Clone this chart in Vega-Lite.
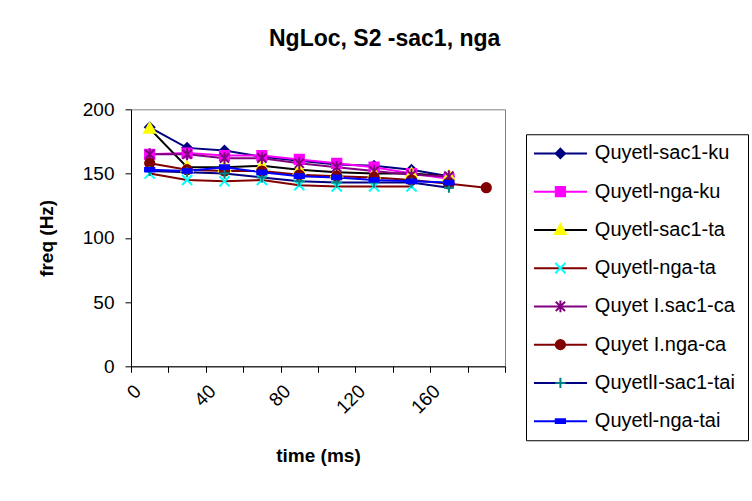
{
  "$schema": "https://vega.github.io/schema/vega-lite/v6.json",
  "padding": {"left": 36, "top": 27, "right": 2, "bottom": 5},
  "background": "white",
  "title": {"text": "NgLoc, S2 -sac1, nga", "fontSize": 23, "font": "Liberation Sans", "fontWeight": "bold", "color": "black", "anchor": "middle", "offset": 49, "dx": -8},
  "config": {
    "font": "Liberation Sans",
    "axis": {"labelFont": "Liberation Sans", "labelFontSize": 19, "labelColor": "black", "titleFont": "Liberation Sans", "titleFontSize": 19, "titleFontWeight": "bold", "titleColor": "black", "domainColor": "black", "tickColor": "black", "tickSize": 6, "grid": false}
  },
  "data": {"values": [
    {"s": "Quyetl-sac1-ku", "t": 10, "f": 186}, {"s": "Quyetl-sac1-ku", "t": 30, "f": 170}, {"s": "Quyetl-sac1-ku", "t": 50, "f": 168}, {"s": "Quyetl-sac1-ku", "t": 70, "f": 163}, {"s": "Quyetl-sac1-ku", "t": 90, "f": 160}, {"s": "Quyetl-sac1-ku", "t": 110, "f": 157}, {"s": "Quyetl-sac1-ku", "t": 130, "f": 156}, {"s": "Quyetl-sac1-ku", "t": 150, "f": 153}, {"s": "Quyetl-sac1-ku", "t": 170, "f": 148},
    {"s": "Quyetl-nga-ku", "t": 10, "f": 165}, {"s": "Quyetl-nga-ku", "t": 30, "f": 166}, {"s": "Quyetl-nga-ku", "t": 50, "f": 164}, {"s": "Quyetl-nga-ku", "t": 70, "f": 164}, {"s": "Quyetl-nga-ku", "t": 90, "f": 161}, {"s": "Quyetl-nga-ku", "t": 110, "f": 158}, {"s": "Quyetl-nga-ku", "t": 130, "f": 155}, {"s": "Quyetl-nga-ku", "t": 150, "f": 150}, {"s": "Quyetl-nga-ku", "t": 170, "f": 146},
    {"s": "Quyetl-sac1-ta", "t": 10, "f": 185}, {"s": "Quyetl-sac1-ta", "t": 30, "f": 155}, {"s": "Quyetl-sac1-ta", "t": 50, "f": 155}, {"s": "Quyetl-sac1-ta", "t": 70, "f": 156}, {"s": "Quyetl-sac1-ta", "t": 90, "f": 153}, {"s": "Quyetl-sac1-ta", "t": 110, "f": 151}, {"s": "Quyetl-sac1-ta", "t": 130, "f": 150}, {"s": "Quyetl-sac1-ta", "t": 150, "f": 150}, {"s": "Quyetl-sac1-ta", "t": 170, "f": 148},
    {"s": "Quyetl-nga-ta", "t": 10, "f": 150}, {"s": "Quyetl-nga-ta", "t": 30, "f": 145}, {"s": "Quyetl-nga-ta", "t": 50, "f": 144}, {"s": "Quyetl-nga-ta", "t": 70, "f": 145}, {"s": "Quyetl-nga-ta", "t": 90, "f": 141}, {"s": "Quyetl-nga-ta", "t": 110, "f": 140}, {"s": "Quyetl-nga-ta", "t": 130, "f": 140}, {"s": "Quyetl-nga-ta", "t": 150, "f": 140},
    {"s": "Quyet I.sac1-ca", "t": 10, "f": 165}, {"s": "Quyet I.sac1-ca", "t": 30, "f": 165}, {"s": "Quyet I.sac1-ca", "t": 50, "f": 162}, {"s": "Quyet I.sac1-ca", "t": 70, "f": 162}, {"s": "Quyet I.sac1-ca", "t": 90, "f": 158}, {"s": "Quyet I.sac1-ca", "t": 110, "f": 155}, {"s": "Quyet I.sac1-ca", "t": 130, "f": 152}, {"s": "Quyet I.sac1-ca", "t": 150, "f": 149}, {"s": "Quyet I.sac1-ca", "t": 170, "f": 148},
    {"s": "Quyet I.nga-ca", "t": 10, "f": 158}, {"s": "Quyet I.nga-ca", "t": 30, "f": 153}, {"s": "Quyet I.nga-ca", "t": 50, "f": 152}, {"s": "Quyet I.nga-ca", "t": 70, "f": 152}, {"s": "Quyet I.nga-ca", "t": 90, "f": 149}, {"s": "Quyet I.nga-ca", "t": 110, "f": 148}, {"s": "Quyet I.nga-ca", "t": 130, "f": 147}, {"s": "Quyet I.nga-ca", "t": 150, "f": 145}, {"s": "Quyet I.nga-ca", "t": 170, "f": 142}, {"s": "Quyet I.nga-ca", "t": 190, "f": 139},
    {"s": "QuyetlI-sac1-tai", "t": 10, "f": 152}, {"s": "QuyetlI-sac1-tai", "t": 30, "f": 151}, {"s": "QuyetlI-sac1-tai", "t": 50, "f": 150}, {"s": "QuyetlI-sac1-tai", "t": 70, "f": 147}, {"s": "QuyetlI-sac1-tai", "t": 90, "f": 144}, {"s": "QuyetlI-sac1-tai", "t": 110, "f": 143}, {"s": "QuyetlI-sac1-tai", "t": 130, "f": 143}, {"s": "QuyetlI-sac1-tai", "t": 150, "f": 143}, {"s": "QuyetlI-sac1-tai", "t": 170, "f": 139},
    {"s": "Quyetl-nga-tai", "t": 10, "f": 153}, {"s": "Quyetl-nga-tai", "t": 30, "f": 152}, {"s": "Quyetl-nga-tai", "t": 50, "f": 155}, {"s": "Quyetl-nga-tai", "t": 70, "f": 151}, {"s": "Quyetl-nga-tai", "t": 90, "f": 148}, {"s": "Quyetl-nga-tai", "t": 110, "f": 147}, {"s": "Quyetl-nga-tai", "t": 130, "f": 145}, {"s": "Quyetl-nga-tai", "t": 150, "f": 144}, {"s": "Quyetl-nga-tai", "t": 170, "f": 143}
  ]},
  "hconcat": [
    {
      "width": 374,
      "height": 257,
      "view": {"stroke": "#808080"},
      "encoding": {
        "x": {"field": "t", "type": "quantitative", "title": "time (ms)", "scale": {"domain": [0, 200], "nice": false},
          "axis": {"values": [0, 20, 40, 60, 80, 100, 120, 140, 160, 180, 200], "labelAngle": -45, "labelPadding": 9, "titlePadding": 29, "labelExpr": "datum.value % 40 == 0 && datum.value < 200 ? datum.label : ''"}},
        "y": {"field": "f", "type": "quantitative", "title": "freq (Hz)", "scale": {"domain": [0, 200], "nice": false},
          "axis": {"values": [0, 50, 100, 150, 200], "labelPadding": 11, "titlePadding": 26}}
      },
      "layer": [
        {
          "mark": {"type": "line", "strokeWidth": 2},
          "encoding": {
            "color": {"field": "s", "type": "nominal", "legend": null,
              "scale": {"domain": ["Quyetl-sac1-ku", "Quyetl-nga-ku", "Quyetl-sac1-ta", "Quyetl-nga-ta", "Quyet I.sac1-ca", "Quyet I.nga-ca", "QuyetlI-sac1-tai", "Quyetl-nga-tai"],
                "range": ["#000080", "#FF00FF", "#000000", "#800000", "#800080", "#800000", "#000080", "#0000FF"]}},
            "order": {"field": "t", "type": "quantitative"}
          }
        },
        {
          "mark": {"type": "point", "filled": true, "opacity": 1, "strokeWidth": 2, "size": 85},
          "encoding": {
            "shape": {"field": "s", "type": "nominal", "legend": null,
              "scale": {"domain": ["Quyetl-sac1-ku", "Quyetl-nga-ku", "Quyetl-sac1-ta", "Quyetl-nga-ta", "Quyet I.sac1-ca", "Quyet I.nga-ca", "QuyetlI-sac1-tai", "Quyetl-nga-tai"],
                "range": ["M0,-1L1,0L0,1L-1,0Z", "M-1,-1H1V1H-1Z", "M0,-1.2L1.2,0.9H-1.2Z", "M-1.1,-1.1L1.1,1.1M-1.1,1.1L1.1,-1.1", "M-1,-1L1,1M-1,1L1,-1M0,-1.3V1.3", "circle", "M-1.1,0H1.1M0,-1.1V1.1", "M-1,-0.4H1V0.4H-1Z"]}},
            "fill": {"field": "s", "type": "nominal", "legend": null,
              "scale": {"domain": ["Quyetl-sac1-ku", "Quyetl-nga-ku", "Quyetl-sac1-ta", "Quyetl-nga-ta", "Quyet I.sac1-ca", "Quyet I.nga-ca", "QuyetlI-sac1-tai", "Quyetl-nga-tai"],
                "range": ["#000080", "#FF00FF", "#FFFF00", "#00FFFF", "#800080", "#800000", "#008080", "#0000FF"]}},
            "stroke": {"field": "s", "type": "nominal", "legend": null,
              "scale": {"domain": ["Quyetl-sac1-ku", "Quyetl-nga-ku", "Quyetl-sac1-ta", "Quyetl-nga-ta", "Quyet I.sac1-ca", "Quyet I.nga-ca", "QuyetlI-sac1-tai", "Quyetl-nga-tai"],
                "range": ["#000080", "#FF00FF", "#FFFF00", "#00FFFF", "#800080", "#800000", "#008080", "#0000FF"]}}
          }
        }
      ]
    },
    {
      "width": 222,
      "height": 306,
      "view": {"stroke": "black", "strokeWidth": 1},
      "transform": [{"aggregate": [{"op": "count", "as": "n"}], "groupby": ["s"]}],
      "encoding": {
        "y": {"field": "s", "type": "nominal", "axis": null,
          "scale": {"type": "point", "padding": 0.5, "domain": ["Quyetl-sac1-ku", "Quyetl-nga-ku", "Quyetl-sac1-ta", "Quyetl-nga-ta", "Quyet I.sac1-ca", "Quyet I.nga-ca", "QuyetlI-sac1-tai", "Quyetl-nga-tai"]}}
      },
      "layer": [
        {
          "mark": {"type": "rule", "strokeWidth": 2},
          "encoding": {
            "x": {"datum": 0.036, "type": "quantitative", "scale": {"domain": [0, 1], "nice": false}, "axis": null},
            "x2": {"datum": 0.275},
            "color": {"field": "s", "type": "nominal", "legend": null,
              "scale": {"domain": ["Quyetl-sac1-ku", "Quyetl-nga-ku", "Quyetl-sac1-ta", "Quyetl-nga-ta", "Quyet I.sac1-ca", "Quyet I.nga-ca", "QuyetlI-sac1-tai", "Quyetl-nga-tai"],
                "range": ["#000080", "#FF00FF", "#000000", "#800000", "#800080", "#800000", "#000080", "#0000FF"]}}
          }
        },
        {
          "mark": {"type": "point", "filled": true, "opacity": 1, "strokeWidth": 2, "size": 85},
          "encoding": {
            "x": {"datum": 0.155, "type": "quantitative"},
            "shape": {"field": "s", "type": "nominal", "legend": null,
              "scale": {"domain": ["Quyetl-sac1-ku", "Quyetl-nga-ku", "Quyetl-sac1-ta", "Quyetl-nga-ta", "Quyet I.sac1-ca", "Quyet I.nga-ca", "QuyetlI-sac1-tai", "Quyetl-nga-tai"],
                "range": ["M0,-1L1,0L0,1L-1,0Z", "M-1,-1H1V1H-1Z", "M0,-1.2L1.2,0.9H-1.2Z", "M-1.1,-1.1L1.1,1.1M-1.1,1.1L1.1,-1.1", "M-1,-1L1,1M-1,1L1,-1M0,-1.3V1.3", "circle", "M-1.1,0H1.1M0,-1.1V1.1", "M-1,-0.4H1V0.4H-1Z"]}},
            "fill": {"field": "s", "type": "nominal", "legend": null,
              "scale": {"domain": ["Quyetl-sac1-ku", "Quyetl-nga-ku", "Quyetl-sac1-ta", "Quyetl-nga-ta", "Quyet I.sac1-ca", "Quyet I.nga-ca", "QuyetlI-sac1-tai", "Quyetl-nga-tai"],
                "range": ["#000080", "#FF00FF", "#FFFF00", "#00FFFF", "#800080", "#800000", "#008080", "#0000FF"]}},
            "stroke": {"field": "s", "type": "nominal", "legend": null,
              "scale": {"domain": ["Quyetl-sac1-ku", "Quyetl-nga-ku", "Quyetl-sac1-ta", "Quyetl-nga-ta", "Quyet I.sac1-ca", "Quyet I.nga-ca", "QuyetlI-sac1-tai", "Quyetl-nga-tai"],
                "range": ["#000080", "#FF00FF", "#FFFF00", "#00FFFF", "#800080", "#800000", "#008080", "#0000FF"]}}
          }
        },
        {
          "mark": {"type": "text", "align": "left", "baseline": "middle", "fontSize": 20, "font": "Liberation Sans", "color": "black"},
          "encoding": {
            "x": {"datum": 0.31, "type": "quantitative"},
            "text": {"field": "s", "type": "nominal"}
          }
        }
      ]
    }
  ],
  "spacing": 6,
  "center": true,
  "resolve": {"scale": {"x": "independent", "y": "independent"}}
}
